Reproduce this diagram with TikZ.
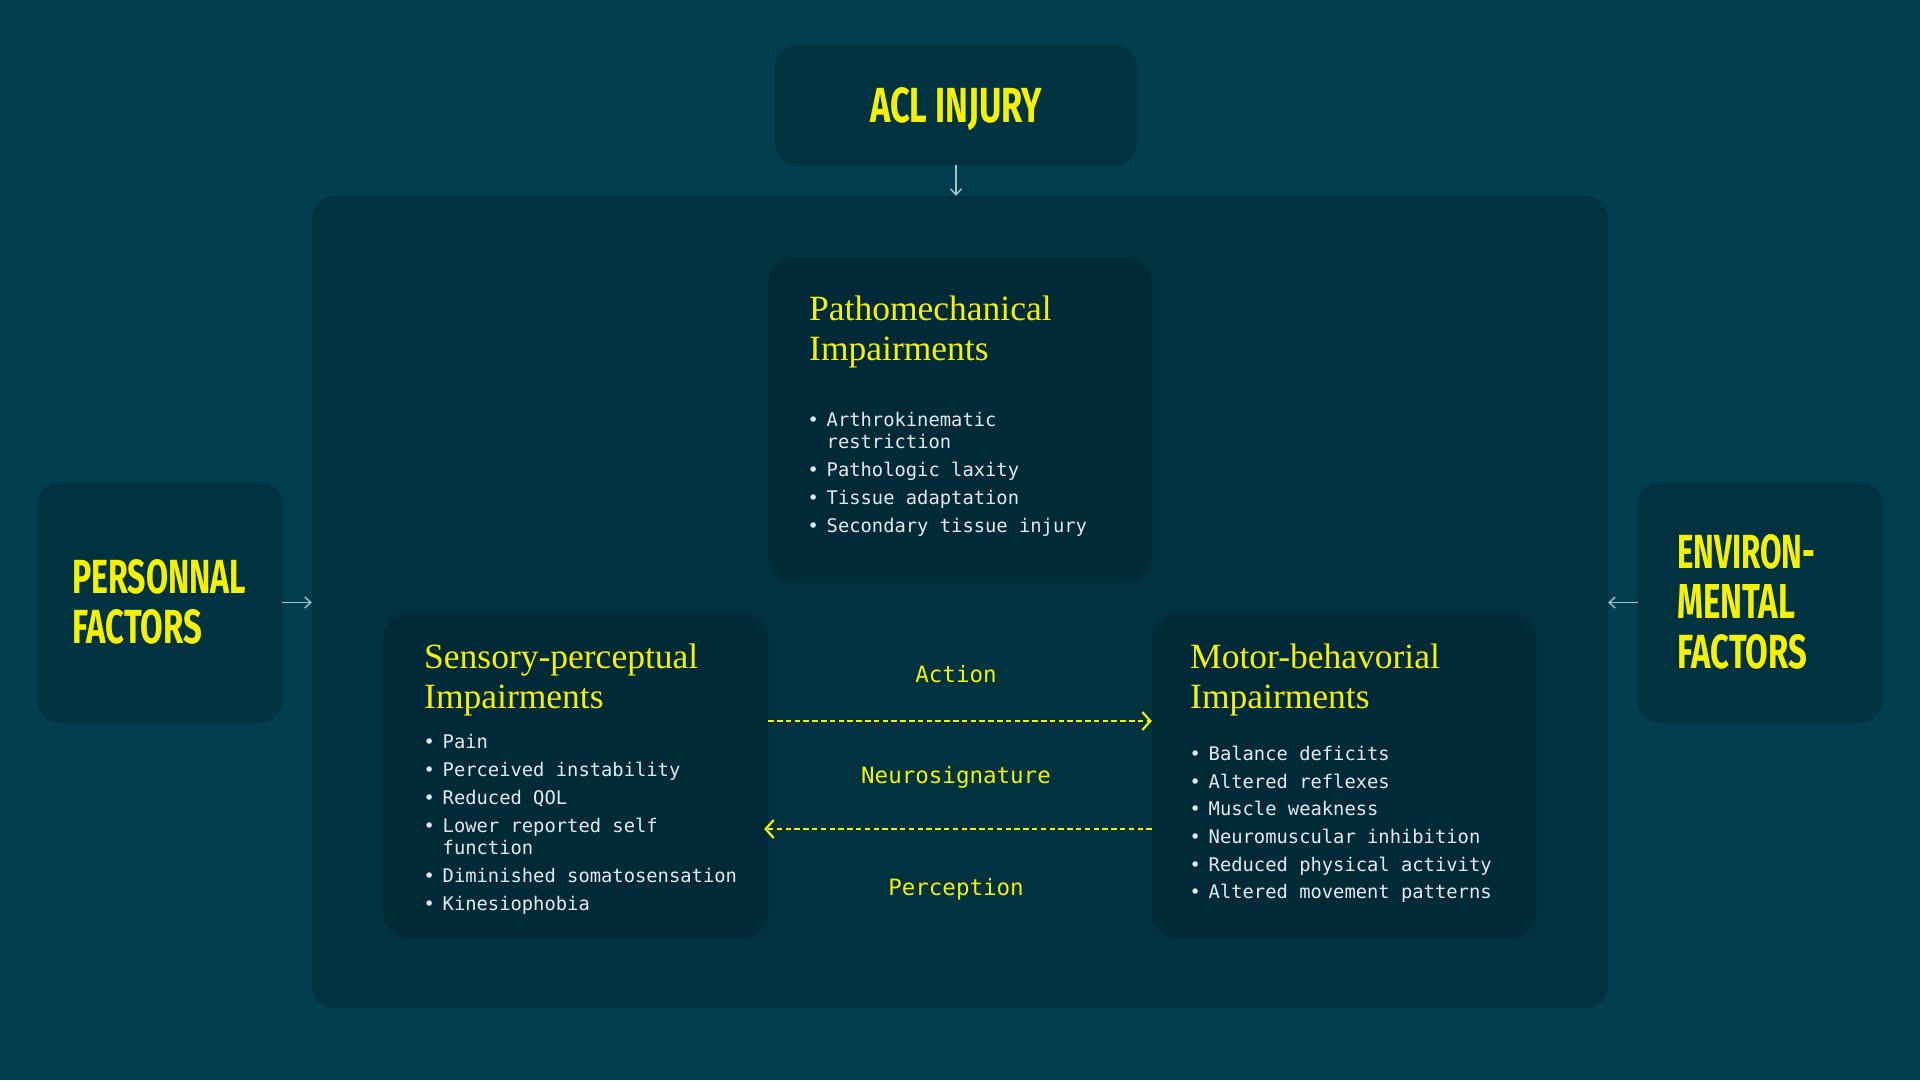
\documentclass[tikz,border=0pt]{standalone}
\usepackage{fontspec}
\usetikzlibrary{arrows.meta}
\newfontfamily\monof{DejaVu Sans Mono}
\newfontfamily\headf{Fira Sans}
\newfontfamily\serf{Liberation Serif}
\definecolor{bgc}{RGB}{0,62,80}
\definecolor{outerc}{RGB}{0,50,64}
\definecolor{innerc}{RGB}{0,42,56}
\definecolor{yel}{RGB}{245,240,10}
\definecolor{wtxt}{RGB}{228,234,236}
\definecolor{garr}{RGB}{170,192,198}
\tikzset{
  darkbox/.style={fill=outerc, draw=none, rounded corners=22pt, inner sep=0pt},
  innerbox/.style={fill=innerc, draw=none, rounded corners=26pt, inner sep=0pt},
  bigtitle/.style={text=yel, inner sep=0pt, anchor=base west, font=\headf\bfseries},
  sertitle/.style={text=yel, inner sep=0pt, anchor=base west, font=\serf\fontsize{35.5}{40}\selectfont},
  itm/.style={text=wtxt, inner sep=0pt, anchor=base west, font=\monof\fontsize{18.8}{23}\selectfont},
  lbl/.style={text=yel, inner sep=0pt, anchor=base, font=\monof\fontsize{22.5}{27}\selectfont},
  grayarrow/.style={draw=garr, line width=1.4pt, -{Straight Barb[length=6pt,width=11pt]}},
  dasharrow/.style={draw=yel, line width=2.2pt, dash pattern=on 5.5pt off 3.3pt, -{Straight Barb[length=8pt,width=18pt,line width=2.2pt]}}
}
\newcommand{\bl}{\makebox[0pt]{•}\hspace{13.5pt}}
\begin{document}
\begin{tikzpicture}[x=1pt,y=-1pt]
\fill[bgc] (0,0) rectangle (1920,1080);
\useasboundingbox (0,0) rectangle (1920,1080);

% boxes
\node[darkbox, minimum width=1296pt, minimum height=812pt] (outer) at (960,602) {};
\node[darkbox, minimum width=362pt, minimum height=120pt] (acl) at (956,105) {};
\node[darkbox, minimum width=244pt, minimum height=241pt] (pers) at (160,602.5) {};
\node[darkbox, minimum width=244pt, minimum height=241pt] (env) at (1760,602.5) {};
\node[innerbox, minimum width=384pt, minimum height=325pt] (patho) at (960,420.5) {};
\node[innerbox, minimum width=385pt, minimum height=325pt] (sens) at (575.5,775.5) {};
\node[innerbox, minimum width=384pt, minimum height=325pt] (motor) at (1344,775.5) {};

% big titles
\node[bigtitle] (aclt) at (870,122) {\resizebox{172pt}{35pt}{ACL INJURY}};
\node[bigtitle] (pers1) at (72,593) {\resizebox{174pt}{34pt}{PERSONNAL}};
\node[bigtitle] (pers2) at (72,643) {\resizebox{130pt}{34pt}{FACTORS}};
\node[bigtitle] (env1) at (1677,568) {\resizebox{138pt}{34pt}{ENVIRON-}};
\node[bigtitle] (env2) at (1677,618) {\resizebox{118pt}{34pt}{MENTAL}};
\node[bigtitle] (env3) at (1677,668) {\resizebox{130pt}{34pt}{FACTORS}};

% gray connectors
\draw[grayarrow] (acl.south) -- (acl.south |- outer.north);
\draw[grayarrow] (pers.east) -- (outer.west |- pers.east);
\draw[grayarrow] (env.west) -- (outer.east |- env.west);

% Pathomechanical
\node[sertitle] (pt1) at (809,320) {Pathomechanical};
\node[sertitle] (pt2) at (809,360) {Impairments};
\node[itm] (pa1) at (813,426) {\bl Arthrokinematic};
\node[itm] (pa1b) at (826.5,448) {restriction};
\node[itm] (pa2) at (813,476) {\bl Pathologic laxity};
\node[itm] (pa3) at (813,504) {\bl Tissue adaptation};
\node[itm] (pa4) at (813,532) {\bl Secondary tissue injury};

% Sensory
\node[sertitle] (st1) at (424,668) {Sensory-perceptual};
\node[sertitle] (st2) at (424,708) {Impairments};
\node[itm] (sa1) at (429,748) {\bl Pain};
\node[itm] (sa2) at (429,776) {\bl Perceived instability};
\node[itm] (sa3) at (429,804) {\bl Reduced QOL};
\node[itm] (sa4) at (429,832) {\bl Lower reported self};
\node[itm] (sa4b) at (442.5,854) {function};
\node[itm] (sa5) at (429,882) {\bl Diminished somatosensation};
\node[itm] (sa6) at (429,910) {\bl Kinesiophobia};

% Motor
\node[sertitle] (mt1) at (1190,668) {Motor-behavorial};
\node[sertitle] (mt2) at (1190,708) {Impairments};
\node[itm] (ma1) at (1195,760) {\bl Balance deficits};
\node[itm] (ma2) at (1195,788) {\bl Altered reflexes};
\node[itm] (ma3) at (1195,815) {\bl Muscle weakness};
\node[itm] (ma4) at (1195,843) {\bl Neuromuscular inhibition};
\node[itm] (ma5) at (1195,871) {\bl Reduced physical activity};
\node[itm] (ma6) at (1195,898) {\bl Altered movement patterns};

% labels and dashed arrows
\node[lbl] (action) at (956,682) {Action};
\node[lbl] (neuro) at (956,783) {Neurosignature};
\node[lbl] (percep) at (956,895) {Perception};
\draw[dasharrow] ([yshift=54.5pt]sens.east) -- ([yshift=54.5pt]motor.west);
\draw[dasharrow] ([yshift=-53.5pt]motor.west) -- ([yshift=-53.5pt,xshift=-4pt]sens.east);
\end{tikzpicture}
\end{document}
